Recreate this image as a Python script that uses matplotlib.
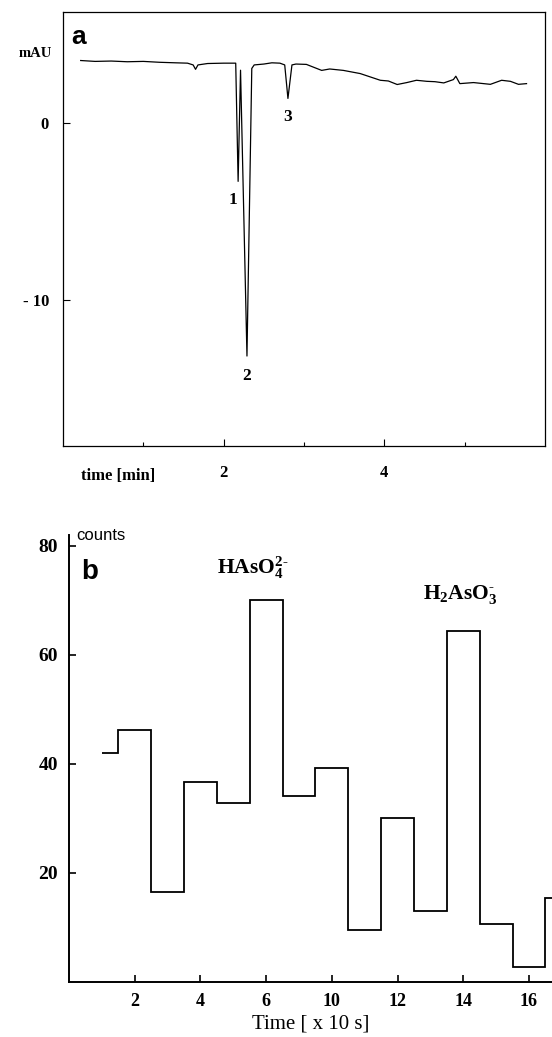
import matplotlib.pyplot as plt
import numpy as np

plt.rcParams['font.family'] = ['Liberation Serif', 'DejaVu Sans']
plt.rcParams['mathtext.fontset'] = 'custom'
plt.rcParams['mathtext.rm'] = 'Liberation Serif:bold'
plt.rcParams['mathtext.bf'] = 'Liberation Serif:bold'

# panel a: electropherogram (time in min, absorbance in mAU)
time_min = [0.22, 0.4, 0.6, 0.8, 1.0, 1.2, 1.4, 1.55, 1.62, 1.65, 1.68, 1.8, 2.0, 2.15,
            2.18, 2.21, 2.29, 2.35, 2.38, 2.5, 2.6, 2.7, 2.76, 2.80, 2.85, 2.9,
            3.03, 3.22, 3.32, 3.49, 3.70, 3.95, 4.05, 4.16, 4.28, 4.40, 4.53,
            4.63, 4.74, 4.86, 4.89, 4.94, 5.11, 5.32, 5.46, 5.57, 5.67, 5.77]
absorb_mau = [3.55, 3.5, 3.52, 3.48, 3.5, 3.45, 3.42, 3.4, 3.3, 3.05, 3.3, 3.38, 3.4, 3.4,
              -3.3, 3.0, -13.2, 3.1, 3.3, 3.35, 3.42, 3.4, 3.3, 1.4, 3.3, 3.35,
              3.33, 2.99, 3.07, 2.99, 2.81, 2.43, 2.39, 2.19, 2.30, 2.43, 2.37,
              2.35, 2.28, 2.47, 2.66, 2.24, 2.30, 2.20, 2.43, 2.37, 2.20, 2.24]
peak_labels = ['1', '2', '3']
peak_time = [2.12, 2.29, 2.79]
peak_mau = [-4.35, -14.35, 0.35]

# panel b: counts per 10 s interval
interval = [1, 2, 3, 4, 5, 6, 7, 8, 9, 10, 11, 12, 13, 14, 15]
counts = [42.0, 46.2, 16.5, 36.7, 32.8, 70.0, 34.1, 39.3, 9.6, 30.1, 13.0, 64.3, 10.6, 2.7, 15.5]
record_start = 1.0
tick_pos_b = [2, 4, 6, 8, 10, 12, 14]
tick_lab_b = ['2', '4', '6', '10', '12', '14', '16']

fig = plt.figure(figsize=(5.52, 10.37), dpi=100)

# ---- panel a
ax1 = fig.add_axes([63 / 552, 1 - 446 / 1037, 482 / 552, 434 / 1037])
ax1.plot(time_min, absorb_mau, color='black', lw=0.9)
for lab, t, v in zip(peak_labels, peak_time, peak_mau):
    ax1.text(t, v, lab, ha='center', va='center', fontsize=12.5, fontweight='bold')
ax1.set_xlim(0, 6)
ax1.set_ylim(-18.3, 6.3)
ax1.set_xticks([2, 4])
ax1.set_xticks([1, 3, 5], minor=True)
ax1.set_yticks([0, -10])
ax1.set_yticklabels(['0', '- 10'])
ax1.tick_params(direction='in', length=5, width=0.8, labelsize=12, pad=10)
ax1.tick_params(axis='x', which='minor', direction='in', length=3, width=0.8)
ax1.tick_params(axis='x', pad=14)
for lab in ax1.get_xticklabels() + ax1.get_yticklabels():
    lab.set_fontweight('bold')
for sp in ax1.spines.values():
    sp.set_linewidth(0.9)
ax1.text(0.68, -19.55, 'time [min]', ha='center', va='top', fontsize=12, fontweight='bold')
ax1.text(-0.14, 3.95, 'mAU', ha='right', va='center', fontsize=10.5, fontweight='bold')
ax1.text(0.19, 4.9, 'a', ha='center', va='center', fontsize=19, fontweight='bold',
         family='Liberation Sans')

# ---- panel b
edges = [record_start] + [c + 0.5 for c in interval]
ax2 = fig.add_axes([69 / 552, 1 - 982 / 1037, 483 / 552, 447 / 1037])
ax2.stairs(counts, edges, baseline=None, color='black', lw=1.3)
ax2.set_xlim(0, 14.7)
ax2.set_ylim(0, 82)
ax2.set_xticks(tick_pos_b)
ax2.set_xticklabels(tick_lab_b)
ax2.set_yticks([20, 40, 60, 80])
ax2.tick_params(direction='in', length=5, width=1.2, pad=8)
ax2.tick_params(axis='y', labelsize=14)
ax2.tick_params(axis='x', labelsize=13)
for lab in ax2.get_xticklabels() + ax2.get_yticklabels():
    lab.set_fontweight('bold')
ax2.spines['top'].set_visible(False)
ax2.spines['right'].set_visible(False)
ax2.spines['left'].set_linewidth(1.4)
ax2.spines['bottom'].set_linewidth(1.4)
ax2.set_xlabel('Time [ x 10 s]', fontsize=15, labelpad=3)
ax2.text(0.23, 82, 'counts', ha='left', va='center', fontsize=12, family='Liberation Sans')
ax2.text(0.62, 75.2, 'b', ha='center', va='center', fontsize=20, fontweight='bold',
         family='Liberation Sans')
ax2.text(5.6, 76.1, '$\\mathrm{HAsO_4^{2\u2010}}$', ha='center', va='center', fontsize=15.5)
ax2.text(11.9, 71.0, '$\\mathrm{H_2AsO_3^{\u2010}}$', ha='center', va='center', fontsize=15.5)

fig.savefig('out.png', dpi=100)
